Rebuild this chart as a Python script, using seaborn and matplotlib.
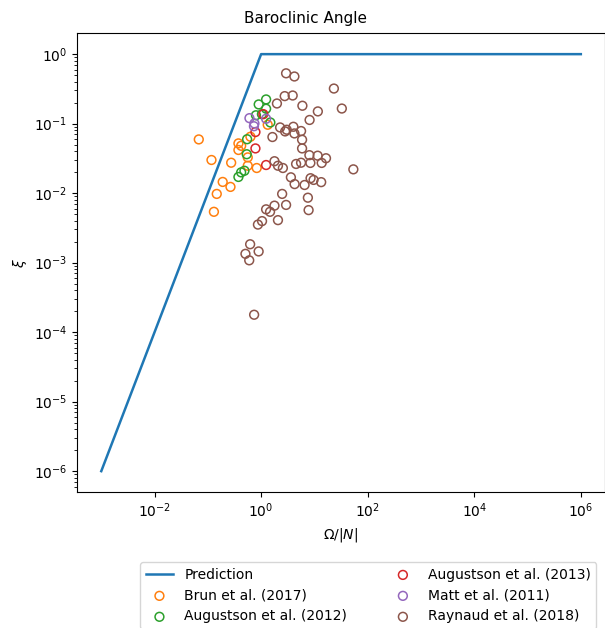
"""Baroclinic angle: prediction vs. simulation results."""

import matplotlib
matplotlib.use("Agg")
import matplotlib.pyplot as plt
import seaborn as sns

# prediction curve
pred_x = [1e-3, 1.0, 1e6]
pred_y = [1e-6, 1.0, 1.0]

# Brun et al. (2017)
brun_x = [0.0676, 0.117, 0.274, 0.375, 0.422, 0.375, 0.63, 0.561, 0.561,
          0.827, 1.33, 0.19, 0.266, 0.147, 0.130]
brun_y = [0.0593, 0.030, 0.0274, 0.052, 0.048, 0.0418, 0.0648, 0.0327, 0.0248,
          0.023, 0.0964, 0.0145, 0.0123, 0.00975, 0.00539]

# Augustson et al. (2012)
aug12_x = [1.24, 0.90, 1.24, 0.80, 1.035, 1.49, 0.546, 0.537, 0.375, 0.422, 0.486]
aug12_y = [0.223, 0.189, 0.164, 0.132, 0.137, 0.104, 0.0597, 0.0363, 0.0171,
           0.0199, 0.021]

# Augustson et al. (2013)
aug13_x = [1.10, 0.782, 0.782, 1.24]
aug13_y = [0.137, 0.0757, 0.044, 0.0254]

# Matt et al. (2011)
matt_x = [0.604, 0.749, 0.733, 1.24]
matt_y = [0.12, 0.1007, 0.0918, 0.1175]

# Raynaud et al. (2018)
ray_x = [2.94, 4.21, 23.2, 32.7, 1.98, 2.77, 3.91, 5.95, 11.6, 8.12,
         2.27, 3.02, 4.03, 2.82, 4.21, 5.62, 5.87, 5.87, 1.63, 1.78,
         2.07, 2.56, 4.53, 5.62, 8.05, 8.4, 11.5, 13.7, 16.5, 53.8,
         3.62, 4.25, 6.54, 8.47, 9.65, 13.4, 2.48, 2.94, 7.54, 7.78,
         1.24, 1.47, 1.78, 2.07, 0.871, 1.04, 0.622, 0.508, 0.898, 0.598,
         0.739]
ray_y = [0.53, 0.477, 0.32, 0.165, 0.195, 0.249, 0.254, 0.181, 0.15, 0.113,
         0.0882, 0.0817, 0.0902, 0.0773, 0.0723, 0.0783, 0.0587, 0.044, 0.0642, 0.0288,
         0.0248, 0.023, 0.0263, 0.0274, 0.0352, 0.0272, 0.0346, 0.0272, 0.0318, 0.022,
         0.0169, 0.0135, 0.0131, 0.0164, 0.0155, 0.0144, 0.00975, 0.00677, 0.0086, 0.0057,
         0.00585, 0.00539, 0.00661, 0.00409, 0.00353, 0.00396, 0.00184, 0.00134, 0.00145, 0.00108,
         0.000178]

datasets = [
    ("Brun et al. (2017)", brun_x, brun_y, "tab:orange"),
    ("Augustson et al. (2012)", aug12_x, aug12_y, "tab:green"),
    ("Augustson et al. (2013)", aug13_x, aug13_y, "tab:red"),
    ("Matt et al. (2011)", matt_x, matt_y, "tab:purple"),
    ("Raynaud et al. (2018)", ray_x, ray_y, "tab:brown"),
]

fig = plt.figure(figsize=(6.05, 6.28), dpi=100)
ax = fig.add_axes([77.3 / 605, 1 - 492 / 628, 527.5 / 605, 458.7 / 628])
ax.set_xscale("log")
ax.set_yscale("log")

sns.lineplot(x=pred_x, y=pred_y, ax=ax, color="tab:blue", linewidth=1.8,
             label="Prediction", legend=False)

for name, xs, ys, col in datasets:
    sns.scatterplot(x=xs, y=ys, ax=ax, color=col, facecolor="none",
                    edgecolor=col, s=40, linewidth=1.1, label=name, legend=False)

# title sits over the middle of the figure, not the axes
fig.text(305 / 605, 1 - 19 / 628, "Baroclinic Angle", fontsize=11,
         ha="center", va="center")
ax.set_xlabel(r"$\Omega/|N|$")
ax.set_ylabel(r"$\xi$")

handles, labels = ax.get_legend_handles_labels()
fig.legend(handles, labels, ncol=2, loc="upper left",
           bbox_to_anchor=(140 / 605, 1 - 562 / 628), borderaxespad=0,
           columnspacing=3.0)

fig.savefig("out.png", dpi=100)
